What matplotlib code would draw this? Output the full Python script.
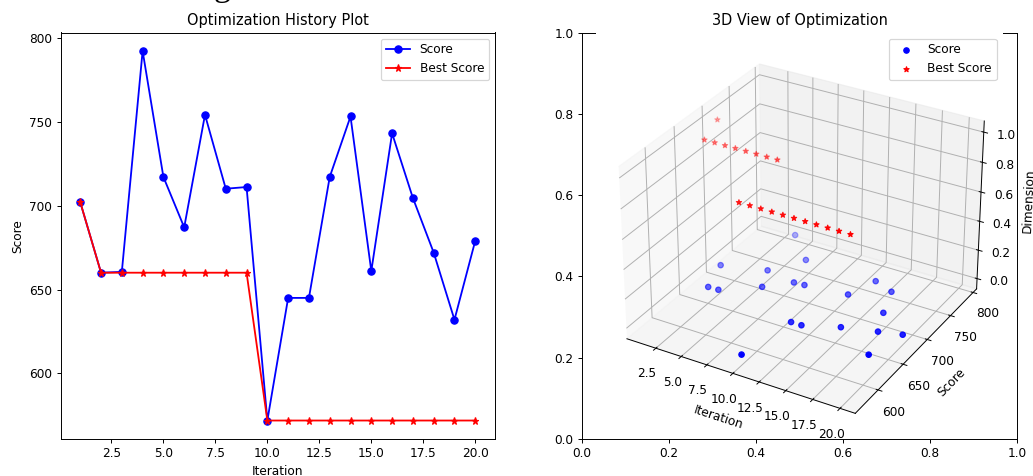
import matplotlib
matplotlib.use('Agg')
import matplotlib.pyplot as plt

# Values
iterations = list(range(1, 21))
scores = [702, 660, 660.5, 792, 717, 687, 754, 710, 711, 572,
          645, 645, 717, 753, 661, 743, 704.5, 672, 632, 679]
best_scores = [702, 660, 660, 660, 660, 660, 660, 660, 660, 572,
               572, 572, 572, 572, 572, 572, 572, 572, 572, 572]
score_dim = [0] * 20
best_dim = [1] * 20
iter_ticks = [2.5, 5, 7.5, 10, 12.5, 15, 17.5, 20]

W, H = 1033, 476
DPI = 87
fig = plt.figure(figsize=(W / DPI, H / DPI), dpi=DPI)

# Cut-off title at the top edge of the screenshot
fig.text(222 / W, 1 + 4 / H, 'g', family='Liberation Serif', fontsize=28,
         ha='center', va='baseline')

# History plot
ax1 = fig.add_axes([60.5 / W, 1 - 439 / H, 434.5 / W, 406.5 / H])
ax1.plot(iterations, scores, 'b-o', label='Score')
ax1.plot(iterations, best_scores, 'r-*', label='Best Score')
ax1.set_xlabel('Iteration')
ax1.set_ylabel('Score')
ax1.set_title('Optimization History Plot')
ax1.legend()

# 3D view sits on top of an empty 2D axes
box = [582 / W, 1 - 439 / H, 435 / W, 406.5 / H]
fig.add_axes(box)
ax2 = fig.add_axes(box, projection='3d')
ax2.scatter(iterations, scores, score_dim, c='b', marker='o', label='Score')
ax2.scatter(iterations, best_scores, best_dim, c='r', marker='*', label='Best Score')
ax2.set_xticks(iter_ticks)
ax2.set_xlabel('Iteration')
ax2.set_ylabel('Score')
ax2.set_zlabel('Dimension')
ax2.set_title('3D View of Optimization')
ax2.legend()

fig.savefig('out.png', dpi=DPI)
